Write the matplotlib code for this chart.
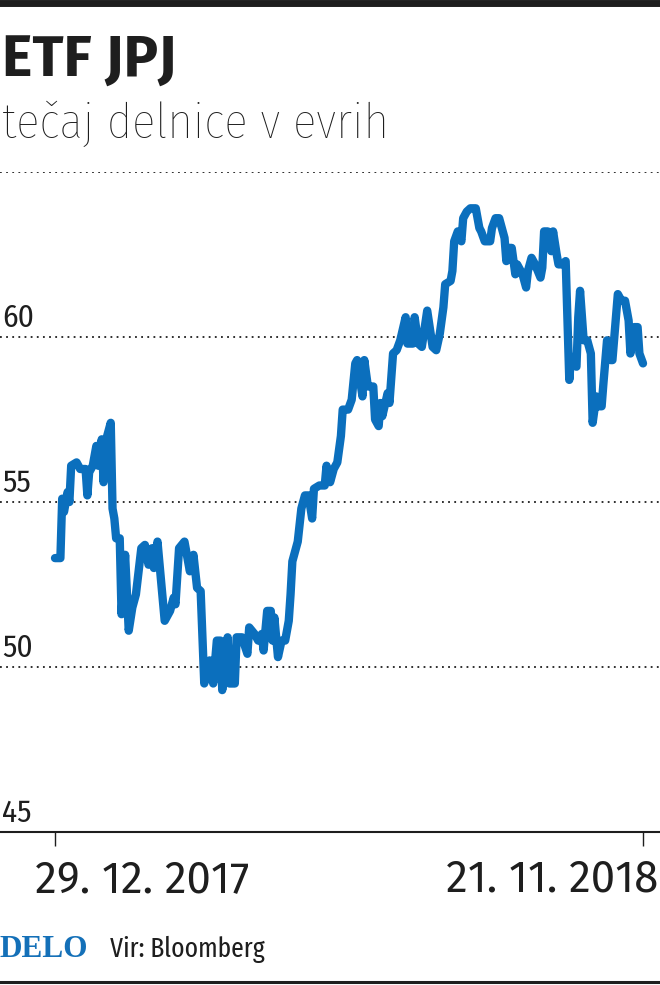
import matplotlib
matplotlib.use('Agg')
import matplotlib.pyplot as plt
import matplotlib.dates as mdates
from matplotlib.lines import Line2D
import pandas as pd

# ETF JPJ closing price, days counted from 29. 12. 2017
start_date = pd.Timestamp('2017-12-29')
end_date = pd.Timestamp('2018-11-21')
days_from_start = [
    0, 3, 4, 5, 7, 8, 9, 12, 14, 17, 18, 19, 21, 23, 24, 26, 27, 29, 31, 32,
    33, 34, 36, 37, 39, 41, 43, 45, 48, 50, 52, 54, 55, 57, 61, 64, 66, 67, 69, 72,
    75, 77, 79, 81, 83, 86, 88, 90, 92, 93, 96, 97, 100, 101, 104, 107, 108, 111, 113, 115,
    116, 118, 120, 121, 122, 124, 126, 128, 130, 131, 132, 135, 137, 139, 141, 143, 144, 147, 150, 151,
    153, 155, 157, 159, 160, 163, 165, 167, 168, 171, 172, 174, 177, 178, 180, 181, 182, 185, 186, 188,
    190, 192, 195, 196, 199, 200, 202, 204, 207, 210, 212, 214, 216, 217, 220, 221, 222, 224, 226, 227,
    229, 231, 234, 235, 236, 237, 239, 242, 243, 245, 247, 249, 250, 251, 252, 254, 255, 256, 257, 260,
    262, 263, 265, 267, 270, 271, 272, 274, 276, 277, 279, 280, 282, 284, 286, 287, 290, 291, 292, 294,
    296, 298, 299, 301, 302, 304, 305, 307, 309, 310, 313, 315, 317, 319, 320, 322, 324, 325, 327,
]
prices = [
    53.3, 53.3, 55.1, 54.7, 55.3, 55.0, 56.1, 56.2, 56.0, 56.0, 55.2, 55.9, 56.1, 56.7, 56.1, 56.9, 55.6, 57.0, 57.4, 54.8,
    54.5, 53.9, 53.9, 51.6, 53.4, 51.1, 51.8, 52.2, 53.6, 53.7, 53.1, 53.6, 53.0, 53.8, 51.4, 51.7, 52.1, 51.9, 53.6, 53.8,
    52.9, 53.4, 52.4, 52.3, 49.5, 50.2, 49.5, 50.8, 50.8, 49.3, 50.9, 49.5, 49.5, 50.9, 50.9, 50.4, 51.2, 51.0, 50.8, 51.0,
    50.5, 51.7, 51.7, 50.8, 51.5, 50.3, 50.8, 50.8, 51.4, 52.2, 53.2, 53.8, 54.8, 55.2, 55.2, 54.5, 55.4, 55.5, 55.5, 56.1,
    55.6, 56.0, 56.2, 57.0, 57.8, 57.8, 58.1, 59.2, 59.3, 58.2, 59.3, 58.5, 58.5, 57.5, 57.3, 58.0, 57.6, 58.3, 58.0, 59.5,
    59.6, 59.9, 60.6, 59.8, 59.8, 60.6, 59.8, 59.7, 60.8, 59.7, 59.6, 60.1, 60.9, 61.6, 61.7, 62.0, 62.9, 63.2, 62.9, 63.6,
    63.8, 63.9, 63.9, 63.6, 63.3, 63.2, 62.9, 62.9, 63.3, 63.6, 63.6, 63.2, 63.0, 62.3, 62.7, 62.7, 62.3, 61.9, 62.2, 61.9,
    61.5, 62.0, 62.4, 62.2, 61.8, 62.1, 63.2, 63.2, 62.6, 63.2, 62.5, 62.2, 62.2, 62.3, 58.7, 59.4, 59.1, 60.6, 61.4, 59.9,
    59.9, 59.5, 57.4, 58.2, 57.9, 57.9, 58.6, 59.9, 59.3, 59.3, 61.3, 61.1, 61.1, 60.5, 59.5, 60.3, 60.3, 59.5, 59.2,
]
y_ticks = [45, 50, 55, 60]
grid_levels = [50, 55, 60, 65]
date_labels = ['29. 12. 2017', '21. 11. 2018']

title = 'ETF JPJ'
subtitle = 'tečaj delnice v evrih'
source = 'Vir: Bloomberg'
brand = 'DELO'

blue = '#0b6fbd'
ink = '#1e1e1e'
fira = ['Fira Sans', 'DejaVu Sans']
fira_c = ['Fira Sans Condensed', 'DejaVu Sans']
fira_xc = ['Fira Sans Extra Condensed', 'DejaVu Sans']

W, H = 660, 985
fig = plt.figure(figsize=(W / 100, H / 100), dpi=100)
fig.patch.set_facecolor('white')

ax = fig.add_axes([0, 1 - 832 / H, 1, (832 - 172) / H])
start_num = mdates.date2num(start_date)
xs = [start_num + d for d in days_from_start]
ax.plot(xs, prices, color=blue, lw=6, solid_joinstyle='round', solid_capstyle='round', zorder=3)

# dotted guide lines
for lev in grid_levels:
    ax.axhline(lev, color=ink, lw=1.3, linestyle=(0, (1, 2.4)), zorder=1)

day_px = 588 / (end_date - start_date).days
ax.set_xlim(start_num - 55 / day_px, start_num + (W - 55) / day_px)
ax.set_ylim(45, 65)

for s in ['top', 'left', 'right']:
    ax.spines[s].set_visible(False)
ax.spines['bottom'].set_color(ink)
ax.spines['bottom'].set_linewidth(1.5)
ax.set_yticks([])
ax.set_xticks([mdates.date2num(start_date), mdates.date2num(end_date)])
ax.set_xticklabels(['', ''])
ax.tick_params(axis='x', direction='out', length=10, width=1, color=ink)

for v in y_ticks:
    ax.annotate(str(v), xy=(0.003, v), xycoords=('axes fraction', 'data'),
                xytext=(0, 7), textcoords='offset points', va='baseline', ha='left',
                fontsize=22.5, color=ink, family=fira_c)

fig.text(35 / W, 1 - 892 / H, date_labels[0], fontsize=31.5, color=ink, family=fira,
         ha='left', va='baseline')
fig.text(658 / W, 1 - 892 / H, date_labels[1], fontsize=31.5, color=ink, family=fira,
         ha='right', va='baseline')

fig.text(2 / W, 1 - 77 / H, title, fontsize=41.5, fontweight='bold', color=ink,
         family=fira, ha='left', va='baseline')
fig.text(2 / W, 1 - 138 / H, subtitle, fontsize=35, fontweight='light', color=ink,
         family=fira_c, ha='left', va='baseline')

fig.text(0, 1 - 957 / H, brand, fontsize=22.5, fontweight='bold', color='#1470b8',
         family=['Liberation Serif', 'DejaVu Serif'], ha='left', va='baseline')
fig.text(110 / W, 1 - 957 / H, source, fontsize=20, color=ink, family=fira_xc,
         ha='left', va='baseline')

# rules at top and bottom of the graphic
fig.add_artist(Line2D([0, 1], [1 - 3 / H, 1 - 3 / H], color=ink, lw=5, transform=fig.transFigure))
fig.add_artist(Line2D([0, 1], [1 - 982 / H, 1 - 982 / H], color=ink, lw=2.2, transform=fig.transFigure))

fig.savefig('out.png', dpi=100)
